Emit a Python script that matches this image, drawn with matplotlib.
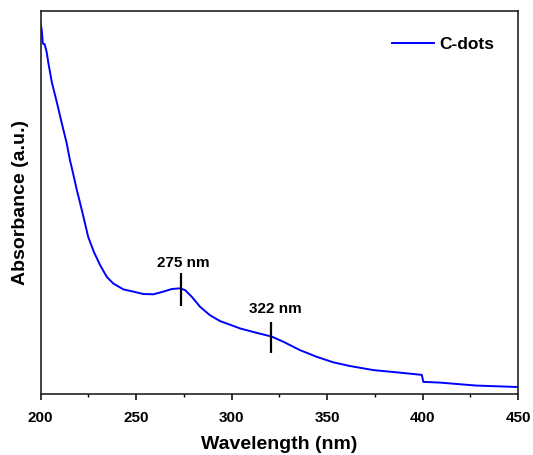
import matplotlib
matplotlib.use("Agg")
import matplotlib.pyplot as plt

plt.rcParams['font.family'] = ['Liberation Sans', 'DejaVu Sans']
plt.rcParams['font.weight'] = 'bold'

# UV-vis spectrum
wavelength = [200.0, 200.6, 201.2, 201.6, 202.1, 202.4, 203.2, 204.1, 205.9, 208.5,
              211.1, 213.7, 215.4, 216.3, 219.0, 221.6, 225.0, 228.0, 231.2, 234.7,
              238.1, 243.4, 248.6, 253.8, 259.1, 264.3, 268.7, 273.0, 275.7, 279.2,
              283.5, 288.7, 294.0, 300.9, 304.5, 313.2, 321.0, 327.1, 335.9, 344.6,
              353.3, 362.0, 374.2, 388.2, 399.6, 400.4, 409.2, 428.0, 450.0]
absorbance = [1.007, 0.990, 0.953, 0.950, 0.950, 0.945, 0.929, 0.899, 0.847, 0.793,
              0.736, 0.681, 0.635, 0.616, 0.554, 0.500, 0.426, 0.385, 0.350, 0.318,
              0.300, 0.284, 0.278, 0.2715, 0.2707, 0.278, 0.285, 0.287, 0.282, 0.264,
              0.237, 0.214, 0.198, 0.185, 0.178, 0.166, 0.156, 0.142, 0.119, 0.101,
              0.086, 0.076, 0.065, 0.058, 0.052, 0.033, 0.031, 0.023, 0.019]

peak_wl = [273.7, 320.5]
peak_lo = [0.239, 0.111]
peak_hi = [0.329, 0.195]
peak_labels = ["275 nm", "322 nm"]
label_x = [274.6, 322.8]
label_y = [0.356, 0.231]

fig = plt.figure(figsize=(5.33, 4.55), dpi=100)
ax = fig.add_axes([0.076, 0.134, 0.896, 0.842])

ax.plot(wavelength, absorbance, color='#0000ff', lw=1.4, label='C-dots')
ax.vlines(peak_wl, peak_lo, peak_hi, colors='black', lw=1.6)
for x, y, t in zip(label_x, label_y, peak_labels):
    ax.text(x, y, t, ha='center', va='center', fontsize=11, fontweight='bold')

ax.set_xlim(200, 450)
ax.set_ylim(0, 1.04)
ax.set_xticks([200, 250, 300, 350, 400, 450])
ax.set_xticks([225, 275, 325, 375, 425], minor=True)
ax.set_yticks([])
ax.tick_params(axis='x', which='major', direction='out', length=4, width=1.1,
               labelsize=11, pad=8)
ax.tick_params(axis='x', which='minor', direction='out', length=2.5, width=1.0)
for lbl in ax.get_xticklabels():
    lbl.set_fontweight('bold')
for s in ax.spines.values():
    s.set_linewidth(1.2)
    s.set_color('#222222')

ax.set_xlabel('Wavelength (nm)', fontsize=14, fontweight='bold', labelpad=8)
ax.set_ylabel('Absorbance (a.u.)', fontsize=14, fontweight='bold', labelpad=8)

ax.legend(loc='upper right', frameon=False, handlelength=2.4,
          handletextpad=0.3, bbox_to_anchor=(0.982, 0.974),
          prop={'weight': 'bold', 'size': 12.5})

fig.savefig('out.png', dpi=100)
